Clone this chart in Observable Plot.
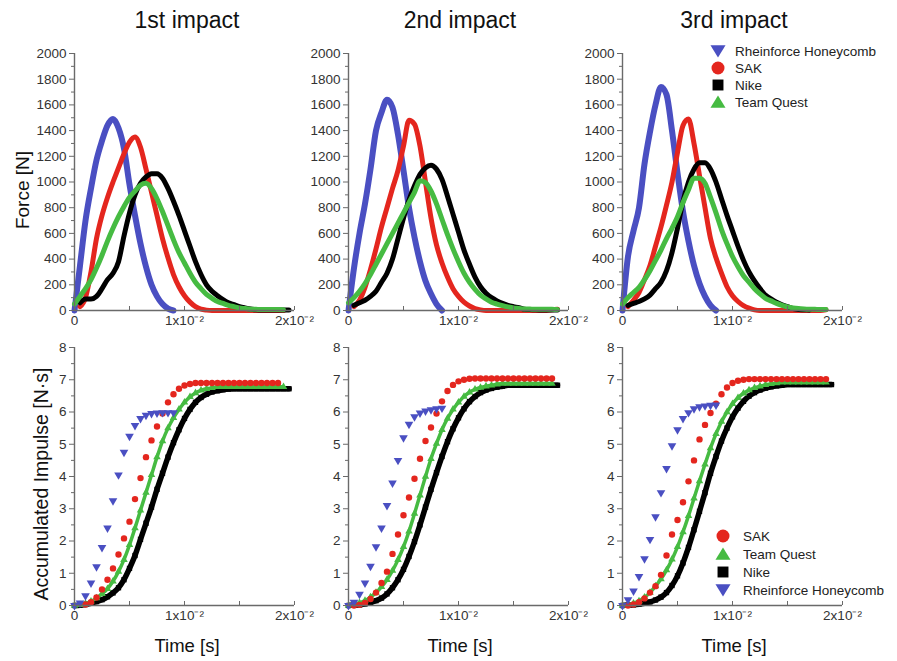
<!DOCTYPE html>
<html><head><meta charset="utf-8">
<script src="https://cdn.jsdelivr.net/npm/d3@7"></script>
<script src="https://cdn.jsdelivr.net/npm/@observablehq/plot@0.6"></script>
<style>
body{margin:0;background:#fff;}
#root{position:relative;width:897px;height:661px;overflow:hidden;background:#fff;font-family:"Liberation Sans",Arial,sans-serif;}
#root > svg.panel{position:absolute;}
#overlay{position:absolute;left:0;top:0;pointer-events:none;}
</style></head><body><div id="root"></div>
<script>
// ---------- data (time in ms) ----------
const timeMs = [0,0.5,1,1.5,2,2.5,3,3.5,4,4.5,5,5.5,6,6.5,7,7.5,8,8.5,9,9.5,10,10.5,11,11.5,12,12.5,13,13.5,14,14.5,15,15.5,16,16.5,17,17.5,18,18.5,19,19.5];
const impactTitles = ["1st impact","2nd impact","3rd impact"];
const seriesNames = ["Rheinforce Honeycomb","SAK","Nike","Team Quest"];
const xTickValues = [0,10,20];
const xTickLabels = ["0","1x10\u207B\u00B2","2x10\u207B\u00B2"];
const xMinorTicks = [0,5,10,15,20];
const forceTicks = [0,200,400,600,800,1000,1200,1400,1600,1800,2000];
const forceMinorTicks = [100,300,500,700,900,1100,1300,1500,1700,1900];
const impulseTicks = [0,1,2,3,4,5,6,7,8];
const impulseMinorTicks = [0.5,1.5,2.5,3.5,4.5,5.5,6.5,7.5];

// Force [N]
const forceRheinforce1 = [0,350,700,950,1170,1320,1440,1490,1420,1260,980,740,520,340,200,110,50,15,0];
const forceSAK1 = [null,30,100,300,560,740,880,1000,1110,1220,1310,1350,1270,1100,920,740,560,410,280,185,115,65,30,10,3,0,0,0,0,0,0,0,0,0,0,0,0,0,0];
const forceNike1 = [null,60,90,90,110,170,240,290,380,580,760,900,990,1040,1065,1065,1030,950,850,740,620,500,380,280,200,150,115,85,60,45,30,20,12,5,3,3,3,3,3,3];
const forceTeamQuest1 = [50,110,170,240,330,430,540,640,730,810,880,930,975,990,950,870,770,660,550,450,370,290,220,170,125,95,70,55,40,30,20,15,10,9,8,8,8,8,5];

const forceRheinforce2 = [0,330,600,830,1100,1400,1540,1640,1580,1370,1090,800,570,380,230,130,50,0];
const forceSAK2 = [null,30,80,180,320,480,650,800,950,1090,1280,1480,1450,1280,1000,720,510,370,260,170,110,65,35,15,5,0,0,0,0,0,0,0,0,0,0,0,0,5,10];
const forceNike2 = [null,40,60,80,110,150,220,290,400,560,720,860,970,1060,1110,1130,1100,1020,890,750,610,470,360,260,185,135,100,75,55,40,30,22,10,7,5,4,3,3,3];
const forceTeamQuest2 = [60,100,150,210,280,360,440,520,600,680,760,840,920,1010,995,930,830,710,590,480,380,290,220,165,120,90,65,50,38,28,20,16,12,11,10,10,10,9,8];

const forceRheinforce3 = [0,420,620,800,1140,1390,1600,1740,1680,1400,1070,770,540,350,210,110,40,0];
const forceSAK3 = [null,30,80,140,240,350,500,650,820,1000,1230,1440,1490,1300,1050,800,560,410,290,185,115,70,38,18,5,0,0,0,0,0,0,0,0,0,0,0,0,5];
const forceNike3 = [null,40,55,70,90,120,170,220,310,450,640,850,1000,1100,1150,1150,1100,1000,870,740,620,500,390,300,230,170,120,90,65,45,30,15,8,6,4];
const forceTeamQuest3 = [50,100,140,180,240,310,390,470,560,640,730,840,940,1030,1030,990,880,760,630,520,420,340,270,220,170,130,95,75,55,40,28,20,15,12,10,9,8,8];

// Accumulated impulse [N·s]
const impulseRheinforce1 = [0,0.08,0.3,0.7,1.2,1.8,2.4,3.25,4.05,4.75,5.25,5.58,5.8,5.9,5.95,5.97,5.98,5.98,5.98];
const impulseSAK1 = [null,null,0.03,0.1,0.25,0.5,0.8,1.15,1.58,2.08,2.6,3.3,3.95,4.6,5.12,5.55,5.95,6.3,6.55,6.72,6.82,6.87,6.9,6.9,6.9,6.9,6.9,6.9,6.9,6.9,6.9,6.9,6.9,6.9,6.9,6.9,6.9,6.9];
const impulseNike1 = [0,0.01,0.03,0.07,0.12,0.18,0.27,0.39,0.55,0.8,1.15,1.55,2.05,2.55,3.05,3.6,4.1,4.6,5.05,5.45,5.8,6.08,6.3,6.45,6.55,6.62,6.66,6.69,6.71,6.72,6.72,6.72,6.72,6.72,6.72,6.72,6.72,6.72,6.72,6.72];
const impulseTeamQuest1 = [0,0.02,0.06,0.13,0.23,0.36,0.52,0.75,1.05,1.42,1.88,2.4,2.95,3.5,4.05,4.6,5.1,5.5,5.82,6.08,6.3,6.47,6.59,6.67,6.72,6.75,6.78,6.78,6.78,6.78,6.78,6.78,6.78,6.78,6.78,6.78,6.78,6.78,6.78];

const impulseRheinforce2 = [0,0.1,0.35,0.7,1.22,1.82,2.4,3.1,3.8,4.5,5.2,5.62,5.85,5.97,6.03,6.07,6.1,6.12];
const impulseSAK2 = [null,0,0.02,0.08,0.2,0.4,0.7,1.05,1.6,2.2,2.8,3.35,3.93,4.55,5.1,5.52,5.95,6.33,6.65,6.84,6.95,7.0,7.03,7.04,7.04,7.04,7.04,7.04,7.04,7.04,7.04,7.04,7.04,7.04,7.04,7.04,7.04,7.04];
const impulseNike2 = [0,0.01,0.02,0.05,0.09,0.15,0.23,0.36,0.55,0.8,1.12,1.52,1.98,2.5,3.05,3.6,4.12,4.62,5.08,5.48,5.82,6.1,6.32,6.48,6.6,6.68,6.73,6.77,6.8,6.83,6.83,6.83,6.83,6.83,6.83,6.83,6.83,6.83,6.83];
const impulseTeamQuest2 = [0,0.03,0.08,0.15,0.26,0.4,0.58,0.8,1.08,1.42,1.82,2.3,2.85,3.42,4.0,4.55,5.02,5.45,5.8,6.08,6.3,6.48,6.61,6.7,6.76,6.8,6.83,6.86,6.88,6.88,6.88,6.88,6.88,6.88,6.88,6.88,6.88,6.88];

const impulseRheinforce3 = [0,0.18,0.45,0.9,1.45,2.05,2.75,3.5,4.25,4.95,5.45,5.8,5.98,6.1,6.16,6.19,6.21,6.22];
const impulseSAK3 = [null,0,0.03,0.1,0.22,0.4,0.6,0.95,1.55,2.2,2.65,3.2,3.85,4.5,5.15,5.6,5.97,6.26,6.55,6.76,6.9,6.97,7.0,7.02,7.02,7.02,7.02,7.02,7.02,7.02,7.02,7.02,7.02,7.02,7.02,7.02,7.02,7.02];
const impulseNike3 = [0,0.01,0.02,0.04,0.07,0.11,0.17,0.26,0.4,0.62,0.92,1.32,1.8,2.35,2.92,3.5,4.1,4.62,5.1,5.5,5.85,6.12,6.33,6.49,6.6,6.68,6.74,6.78,6.81,6.83,6.85,6.85,6.85,6.85,6.85,6.85,6.85,6.85,6.85];
const impulseTeamQuest3 = [0,0.03,0.07,0.14,0.25,0.4,0.6,0.82,1.1,1.43,1.82,2.28,2.78,3.32,3.86,4.38,4.88,5.32,5.7,6.0,6.25,6.44,6.58,6.68,6.75,6.8,6.84,6.87,6.9,6.92,6.92,6.92,6.92,6.92,6.92,6.92,6.92,6.92];

// ---------- styles ----------
const colors = {"Rheinforce Honeycomb":"#4a4fc2","SAK":"#e4261e","Nike":"#000000","Team Quest":"#46bb42"};
const FONT = '"Liberation Sans", Arial, sans-serif';
const AXIS = "#6a6a6a";

function rows(list){
  const out = [];
  for (const [name, arr] of list) arr.forEach((v,i) => { if (v != null) out.push({t: timeMs[i], v, series: name}); });
  return out;
}

const forceSets = [
  [["Rheinforce Honeycomb",forceRheinforce1],["SAK",forceSAK1],["Nike",forceNike1],["Team Quest",forceTeamQuest1]],
  [["Rheinforce Honeycomb",forceRheinforce2],["SAK",forceSAK2],["Nike",forceNike2],["Team Quest",forceTeamQuest2]],
  [["Rheinforce Honeycomb",forceRheinforce3],["SAK",forceSAK3],["Nike",forceNike3],["Team Quest",forceTeamQuest3]]
];
const impulseSets = [
  [["Rheinforce Honeycomb",impulseRheinforce1],["SAK",impulseSAK1],["Nike",impulseNike1],["Team Quest",impulseTeamQuest1]],
  [["Rheinforce Honeycomb",impulseRheinforce2],["SAK",impulseSAK2],["Nike",impulseNike2],["Team Quest",impulseTeamQuest2]],
  [["Rheinforce Honeycomb",impulseRheinforce3],["SAK",impulseSAK3],["Nike",impulseNike3],["Team Quest",impulseTeamQuest3]]
];

function axes(yTicks, yMinor){
  return [
    Plot.ruleX([0], {stroke: AXIS, strokeWidth: 1.4}),
    Plot.ruleY([0], {stroke: AXIS, strokeWidth: 1.4}),
    Plot.axisY({ticks: yTicks, tickSize: 5, tickPadding: 3, stroke: AXIS, fill: "#333", tickFormat: d => String(d), label: null}),
    Plot.axisY({ticks: yMinor, tickSize: 3, tickPadding: 3, stroke: AXIS, tickFormat: () => "", label: null}),
    Plot.axisX({ticks: xTickValues, tickSize: 0, tickPadding: 5, fill: "#333", tickFormat: d => xTickLabels[xTickValues.indexOf(d)], label: null}),
    Plot.axisX({ticks: xMinorTicks, tickSize: -4, tickPadding: 0, stroke: AXIS, tickFormat: () => "", label: null})
  ];
}

const root = document.getElementById("root");
const colLeft = [0, 274, 548];

function place(svg, left, top){
  svg.classList.add("panel");
  svg.style.left = left + "px";
  svg.style.top = top + "px";
  root.appendChild(svg);
}

for (let i = 0; i < 3; i++) {
  const fdata = rows(forceSets[i]);
  const forceOrder = ["Rheinforce Honeycomb","SAK","Nike","Team Quest"];
  const fplot = Plot.plot({
    width: 320, height: 305, marginLeft: 74, marginRight: 26, marginTop: 23, marginBottom: 25,
    style: {background: "transparent", overflow: "visible", fontFamily: FONT, fontSize: "13.5px", color: "#333"},
    x: {domain: [0, 20], label: null},
    y: {domain: [0, 2000], label: null},
    marks: [
      ...forceOrder.map(name => Plot.line(fdata, {filter: d => d.series === name, x: "t", y: "v",
        stroke: colors[name], strokeWidth: name === "Rheinforce Honeycomb" ? 6 : 5, curve: "monotone-x",
        strokeLinejoin: "round", strokeLinecap: "round"})),
      ...axes(forceTicks, forceMinorTicks)
    ]
  });
  place(fplot, colLeft[i], 30);

  const idata = rows(impulseSets[i]);
  const sel = name => d => d.series === name;
  const iplot = Plot.plot({
    width: 320, height: 300, marginLeft: 74, marginRight: 26, marginTop: 17, marginBottom: 25,
    style: {background: "transparent", overflow: "visible", fontFamily: FONT, fontSize: "13.5px", color: "#333"},
    x: {domain: [0, 20], label: null},
    y: {domain: [0, 8], label: null},
    marks: [
      Plot.line(idata, {filter: sel("Nike"), x: "t", y: "v", stroke: "#000", strokeWidth: 5.5, curve: "monotone-x"}),
      Plot.dot(idata, {filter: sel("Nike"), x: "t", y: "v", symbol: "square", r: 3, fill: "#000"}),
      Plot.line(idata, {filter: sel("Team Quest"), x: "t", y: "v", stroke: colors["Team Quest"], strokeWidth: 3.5, curve: "monotone-x"}),
      Plot.dot(idata, {filter: sel("Team Quest"), x: "t", y: "v", symbol: "triangle", r: 2.8, fill: colors["Team Quest"]}),
      Plot.dot(idata, {filter: sel("SAK"), x: "t", y: "v", symbol: "circle", r: 3.2, fill: colors["SAK"]}),
      Plot.dot(idata, {filter: sel("Rheinforce Honeycomb"), x: "t", y: "v", symbol: "triangle", rotate: 180, r: 3.2, fill: colors["Rheinforce Honeycomb"]}),
      ...axes(impulseTicks, impulseMinorTicks)
    ]
  });
  place(iplot, colLeft[i], 330);
}

// ---------- titles, axis titles, legends ----------
const ov = d3.select(root).append("svg").attr("id","overlay").attr("width",897).attr("height",661)
  .style("font-family", FONT);
const panelCenters = [187, 460, 734];
impactTitles.forEach((t, i) => ov.append("text").attr("x", panelCenters[i]).attr("y", 28)
  .attr("text-anchor","middle").attr("font-size", 23).attr("fill","#111").text(t));
panelCenters.forEach(cx => ov.append("text").attr("x", cx).attr("y", 652)
  .attr("text-anchor","middle").attr("font-size", 18.5).attr("fill","#111").text("Time [s]"));
ov.append("text").attr("transform","translate(29,190) rotate(-90)").attr("text-anchor","middle")
  .attr("font-size", 19).attr("fill","#111").text("Force [N]");
ov.append("text").attr("transform","translate(48,484) rotate(-90)").attr("text-anchor","middle")
  .attr("font-size", 19.5).attr("fill","#111").text("Accumulated Impulse [N\u00B7s]");

function marker(g, name, x, y, s){
  const c = colors[name];
  if (name === "SAK") g.append("circle").attr("cx", x).attr("cy", y).attr("r", s*0.5).attr("fill", c);
  else if (name === "Nike") g.append("rect").attr("x", x - s*0.42).attr("y", y - s*0.42).attr("width", s*0.84).attr("height", s*0.84).attr("fill", c);
  else if (name === "Team Quest") g.append("path").attr("d", `M${x},${y - s*0.5}L${x + s*0.58},${y + s*0.45}L${x - s*0.58},${y + s*0.45}Z`).attr("fill", c);
  else g.append("path").attr("d", `M${x},${y + s*0.5}L${x + s*0.58},${y - s*0.45}L${x - s*0.58},${y - s*0.45}Z`).attr("fill", c);
}
function legend(order, mx, tx, y0, dy){
  order.forEach((name, k) => {
    const y = y0 + k*dy;
    marker(ov, name, mx, y, 13);
    ov.append("text").attr("x", tx).attr("y", y + 5).attr("font-size", 13.5).attr("fill","#222").text(name);
  });
}
legend(["Rheinforce Honeycomb","SAK","Nike","Team Quest"], 718, 735, 51, 17);
legend(["SAK","Team Quest","Nike","Rheinforce Honeycomb"], 723, 743, 536, 18);
</script>
</body></html>
